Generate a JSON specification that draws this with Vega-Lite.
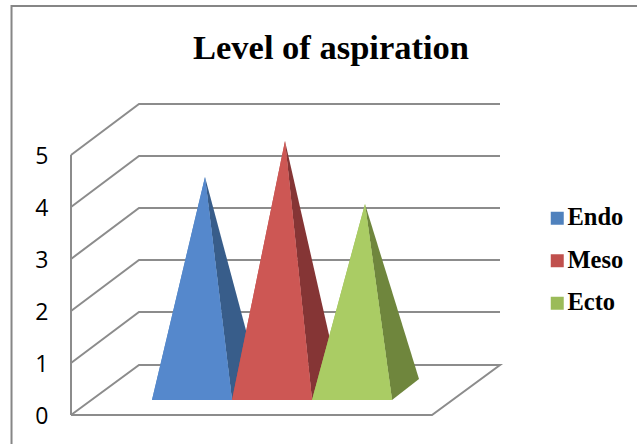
{
"$schema":"https://vega.github.io/schema/vega-lite/v6.json",
"width":637,"height":444,"padding":0,"autosize":{"type":"none"},
"background":"white",
"title":{"text":"Level of aspiration","font":"Liberation Serif","fontWeight":"bold","fontSize":34.5,"color":"#000000","anchor":"middle","frame":"group","dx":12.5,"offset":-93,"baseline":"alphabetic"},
"config":{"view":{"stroke":null}},
"datasets":{
"frame":[
{"g":"b","s":1,"x":-1.756,"y":-0.558},{"g":"b","s":2,"x":-1.756,"y":7.865},{"g":"b","s":3,"x":6.0625,"y":7.865}],
"grid":[
{"g":"v","s":1,"x":-1.0125,"y":0},{"g":"v","s":2,"x":-1.0125,"y":5},
{"g":"0","s":1,"x":-1.0125,"y":0},{"g":"0","s":2,"x":-0.1625,"y":0.96},{"g":"0","s":3,"x":4.35,"y":0.96},{"g":"0","s":4,"x":3.5,"y":0},{"g":"0","s":5,"x":-1.0125,"y":0},
{"g":"1","s":1,"x":-1.0125,"y":1},{"g":"1","s":2,"x":-0.1625,"y":1.98},{"g":"1","s":3,"x":4.35,"y":1.98},
{"g":"2","s":1,"x":-1.0125,"y":2},{"g":"2","s":2,"x":-0.1625,"y":2.98},{"g":"2","s":3,"x":4.35,"y":2.98},
{"g":"3","s":1,"x":-1.0125,"y":3},{"g":"3","s":2,"x":-0.1625,"y":3.98},{"g":"3","s":3,"x":4.35,"y":3.98},
{"g":"4","s":1,"x":-1.0125,"y":4},{"g":"4","s":2,"x":-0.1625,"y":4.98},{"g":"4","s":3,"x":4.35,"y":4.98},
{"g":"5","s":1,"x":-1.0125,"y":5},{"g":"5","s":2,"x":-0.1625,"y":5.98},{"g":"5","s":3,"x":4.35,"y":5.98}],
"side":[
{"series":"Endo","s":1,"x":0.6625,"y":4.577},{"series":"Endo","s":2,"x":1,"y":0.288},{"series":"Endo","s":3,"x":1.3375,"y":0.692},
{"series":"Meso","s":1,"x":1.6625,"y":5.269},{"series":"Meso","s":2,"x":2,"y":0.288},{"series":"Meso","s":3,"x":2.3375,"y":0.692},
{"series":"Ecto","s":1,"x":2.6625,"y":4.058},{"series":"Ecto","s":2,"x":3,"y":0.288},{"series":"Ecto","s":3,"x":3.3375,"y":0.692}],
"front":[
{"series":"Endo","s":1,"x":0,"y":0.288},{"series":"Endo","s":2,"x":0.6625,"y":4.577},{"series":"Endo","s":3,"x":1,"y":0.288},
{"series":"Meso","s":1,"x":1,"y":0.288},{"series":"Meso","s":2,"x":1.6625,"y":5.269},{"series":"Meso","s":3,"x":2,"y":0.288},
{"series":"Ecto","s":1,"x":2,"y":0.288},{"series":"Ecto","s":2,"x":2.6625,"y":4.058},{"series":"Ecto","s":3,"x":3,"y":0.288}]
},
"encoding":{
"x":{"field":"x","type":"quantitative","scale":{"domain":[-1.9,6.0625],"nice":false,"zero":false},"axis":null},
"y":{"field":"y","type":"quantitative","scale":{"domain":[-0.558,7.98],"nice":false,"zero":false},
"axis":{"values":[0,1,2,3,4,5],"title":null,"domain":false,"ticks":false,"grid":false,"offset":-48,"labelPadding":0,"labelFont":"Open Sans","labelFontSize":23,"labelColor":"#000000","labelOffset":2,"labelBaseline":"middle"}},
"order":{"field":"s","type":"quantitative"}
},
"layer":[
{"data":{"name":"frame"},"mark":{"type":"line","stroke":"#868686","strokeWidth":2,"clip":false},"encoding":{"detail":{"field":"g"}}},
{"data":{"name":"grid"},"mark":{"type":"line","stroke":"#8C8C8C","strokeWidth":2},"encoding":{"detail":{"field":"g"}}},
{"data":{"name":"side"},"mark":{"type":"line","filled":true,"strokeWidth":0},"encoding":{"fill":{"field":"series","type":"nominal","scale":{"domain":["Endo","Meso","Ecto"],"range":["#385D8A","#853535","#6F863D"]},"legend":null}}},
{"data":{"name":"front"},"mark":{"type":"line","filled":true,"strokeWidth":0},"encoding":{"fill":{"field":"series","type":"nominal","scale":{"domain":["Endo","Meso","Ecto"],"range":["#4F81BD","#C0504D","#9BBB59"]},"legend":{"orient":"none","legendX":545,"legendY":206,"title":null,"symbolType":"square","symbolSize":169,"symbolStrokeWidth":0,"symbolOpacity":1,"rowPadding":17.5,"labelFont":"Liberation Serif","labelFontWeight":"bold","labelFontSize":24.5,"labelColor":"#000000","labelOffset":-2,"labelLimit":200}}}},
{"data":{"name":"front"},"mark":{"type":"line","filled":true,"strokeWidth":0},"encoding":{"fill":{"field":"series","type":"nominal","scale":{"domain":["Endo","Meso","Ecto"],"range":["#5588CC","#CD5754","#AACC64"]},"legend":null}}}
],
"resolve":{"scale":{"fill":"independent"},"legend":{"fill":"independent"}}
}
